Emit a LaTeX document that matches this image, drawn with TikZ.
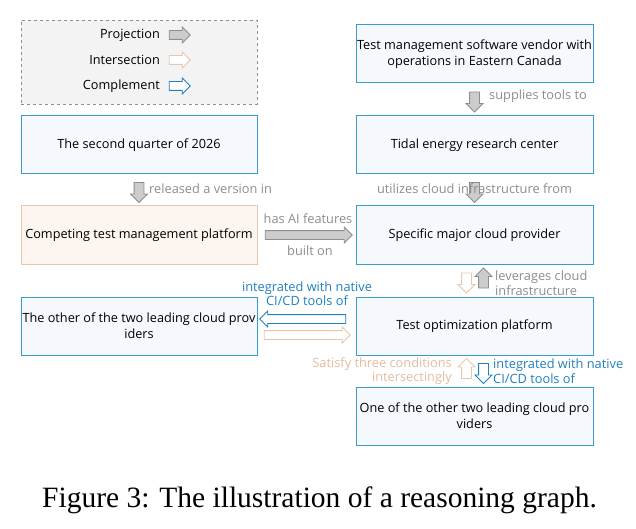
\documentclass[tikz,border=0pt]{standalone}
\usepackage{fontspec}
\setmainfont{Open Sans}
\newfontfamily\capfont{Liberation Serif}
\usetikzlibrary{shapes.arrows,calc}
\definecolor{bxblue}{HTML}{3A9BD0}
\definecolor{bxfill}{HTML}{F5F9FE}
\definecolor{bgborder}{HTML}{E8C6AC}
\definecolor{bgfill}{HTML}{FDF5EF}
\definecolor{lgfill}{HTML}{F3F3F3}
\definecolor{txgray}{HTML}{8C8C8C}
\definecolor{txblue}{HTML}{1F80C0}
\definecolor{txbeige}{HTML}{E2BC9E}
\definecolor{argray}{HTML}{CCCCCC}
\definecolor{ardraw}{HTML}{8E8E8E}
\tikzset{
  x=1pt,y=-1pt,
  bodyfont/.style={font=\fontsize{12.7}{16}\selectfont},
  labfont/.style={font=\fontsize{12.8}{14.5}\selectfont},
  bluebox/.style={draw=bxblue,fill=bxfill,line width=1pt,minimum width=236pt,minimum height=58pt,inner xsep=0pt,inner ysep=2pt,align=center,bodyfont,text=black},
  beigebox/.style={bluebox,draw=bgborder,fill=bgfill},
  arrbase/.style={single arrow,inner sep=4.5pt,single arrow head extend=3.5pt,single arrow tip angle=90,line width=0.8pt,minimum height=20pt,anchor=center},
  garrow/.style={arrbase,draw=ardraw,fill=argray},
  barrow/.style={arrbase,draw=bgborder,fill=white},
  carrow/.style={arrbase,draw=txblue,fill=white},
  glab/.style={labfont,text=txgray,inner sep=0pt},
  clab/.style={labfont,text=txblue,inner sep=0pt},
  blab/.style={labfont,text=txbeige,inner sep=0pt},
}
\begin{document}
\begin{tikzpicture}
\useasboundingbox (0,0) rectangle (636,529);
% legend
\node[draw=ardraw,dashed,fill=lgfill,line width=0.8pt,minimum width=236pt,minimum height=84pt] (legend) at (139,62) {};
\node[bodyfont,anchor=east,inner sep=0pt] (lp) at (160,35) {Projection};
\node[bodyfont,anchor=east,inner sep=0pt] (li) at (160,60) {Intersection};
\node[bodyfont,anchor=east,inner sep=0pt] (lc) at (160,86) {Complement};
\node[garrow,minimum height=21pt,inner sep=4pt] (ap) at (177.5,35) {};
\node[barrow,minimum height=21pt,inner sep=4pt] (ai) at (177.5,60) {};
\node[carrow,minimum height=21pt,inner sep=4pt] (ac) at (177.5,86) {};
% left column
\node[bluebox] (q) at (139,145) {The second quarter of 2026};
\node[beigebox] (comp) at (139,235) {Competing test management platform};
\node[bluebox] (other) at (139,326) {The other of the two leading cloud prov\\iders};
% right column
\node[bluebox,minimum width=237pt] (vendor) at (474.5,54) {Test management software vendor with\\operations in Eastern Canada};
\node[bluebox,minimum width=237pt] (tidal) at (474.5,145) {Tidal energy research center};
\node[bluebox,minimum width=237pt] (spec) at (474.5,235) {Specific major cloud provider};
\node[bluebox,minimum width=237pt] (opt) at (474.5,326) {Test optimization platform};
\node[bluebox,minimum width=237pt] (one) at (474.5,416) {One of the other two leading cloud pro\\viders};
% q -> comp
\node[garrow,rotate=-90] (a1) at ($(q.south)!0.5!(comp.north)$) {};
\node[glab,anchor=west] (l1) at (149,189) {released a version in};
% vendor -> tidal
\node[garrow,rotate=-90] (a2) at ($(vendor.south)!0.5!(tidal.north)$) {};
\node[glab,anchor=west] (l2) at (489,96) {supplies tools to};
% tidal -> spec
\node[garrow,rotate=-90] (a3) at ($(tidal.south)!0.5!(spec.north)$) {};
\node[glab] (l3) at (474.5,189) {utilizes cloud infrastructure from};
% comp -> spec
\node[garrow,minimum height=87pt,inner sep=4pt] (a4) at ($(comp.east)!0.5!(spec.west)$) {};
\node[glab] (l4a) at (308,219) {has AI features};
\node[glab] (l4b) at (310,251) {built on};
% spec <-> opt
\node[barrow,rotate=-90] (a5) at ($($(spec.south)!0.5!(opt.north)$)+(-8,0)$) {};
\node[garrow,rotate=90] (a6) at ($($(spec.south)!0.5!(opt.north)$)+(9,0)$) {};
\node[glab,anchor=west,align=left] (l6) at (495,283) {leverages cloud\\infrastructure};
% opt <-> other
\node[carrow,rotate=180,minimum height=86pt,inner sep=4pt] (a7) at ($($(other.east)!0.5!(opt.west)$)+(-1.5,-7)$) {};
\node[barrow,minimum height=86pt,inner sep=4pt] (a8) at ($($(other.east)!0.5!(opt.west)$)+(-1.5,9)$) {};
\node[clab,align=center] (l7) at (307,293.5) {integrated with native\\CI/CD tools of};
% opt <-> one
\node[barrow,rotate=90] (a9) at ($($(opt.south)!0.5!(one.north)$)+(-8,0)$) {};
\node[carrow,rotate=-90] (a10) at ($($(opt.south)!0.5!(one.north)$)+(9,0)$) {};
\node[blab,anchor=east,align=right] (l9) at (452,371) {Satisfy three conditions\\intersectingly};
\node[clab,anchor=west,align=left] (l10) at (493,371) {integrated with native\\CI/CD tools of};
% caption
\node[font=\capfont\fontsize{29.5}{32}\selectfont,inner sep=0pt,anchor=base] (cap) at (319.5,507) {Figure 3: The illustration of a reasoning graph.};
\end{tikzpicture}
\end{document}
